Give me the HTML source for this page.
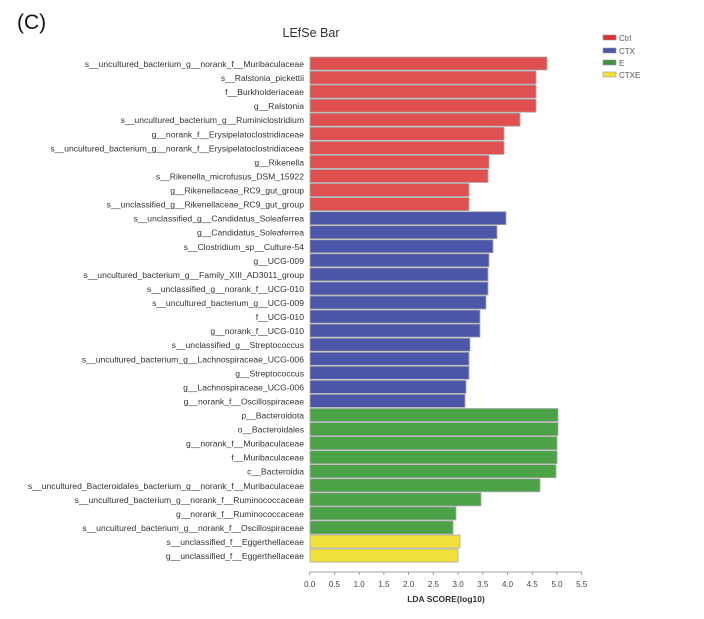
<!DOCTYPE html>
<html><head><meta charset="utf-8"><style>
html,body{margin:0;padding:0;background:#fff}
svg{display:block;font-family:"Liberation Sans",Arial,sans-serif}
.l{font-size:8.6px;fill:#333;text-anchor:end}
.r{fill:#e05050;stroke:#aaa;stroke-width:0.8}
.b{fill:#4c56a8;stroke:#aaa;stroke-width:0.8}
.g{fill:#4ca347;stroke:#aaa;stroke-width:0.8}
.y{fill:#f2e03a;stroke:#aaa;stroke-width:0.8}
.t{font-size:8px;fill:#444;text-anchor:middle}
</style></head><body>
<svg width="704" height="619" viewBox="0 0 704 619">
<text x="17" y="29" font-size="21" fill="#111">(C)</text>
<text x="311" y="37" font-size="12.5" fill="#333" text-anchor="middle">LEfSe Bar</text>
<rect x="603" y="35" width="13" height="5" fill="#e03030" stroke="#999" stroke-width="0.6"/><text x="619" y="41" font-size="8" fill="#555">Ctrl</text>
<rect x="603" y="48" width="13" height="5" fill="#4c56a8" stroke="#999" stroke-width="0.6"/><text x="619" y="54" font-size="8" fill="#555">CTX</text>
<rect x="603" y="60" width="13" height="5" fill="#3c9040" stroke="#999" stroke-width="0.6"/><text x="619" y="66" font-size="8" fill="#555">E</text>
<rect x="603" y="72" width="13" height="5" fill="#f2e03a" stroke="#999" stroke-width="0.6"/><text x="619" y="78" font-size="8" fill="#555">CTXE</text>

<rect class="r" x="310" y="57.0" width="237" height="13"/><text class="l" x="304" y="67.0">s__uncultured_bacterium_g__norank_f__Muribaculaceae</text>
<rect class="r" x="310" y="71.1" width="226" height="13"/><text class="l" x="304" y="81.1">s__Ralstonia_pickettii</text>
<rect class="r" x="310" y="85.1" width="226" height="13"/><text class="l" x="304" y="95.1">f__Burkholderiaceae</text>
<rect class="r" x="310" y="99.2" width="226" height="13"/><text class="l" x="304" y="109.2">g__Ralstonia</text>
<rect class="r" x="310" y="113.2" width="210" height="13"/><text class="l" x="304" y="123.2">s__uncultured_bacterium_g__Ruminiclostridium</text>
<rect class="r" x="310" y="127.3" width="194" height="13"/><text class="l" x="304" y="137.3">g__norank_f__Erysipelatoclostridiaceae</text>
<rect class="r" x="310" y="141.4" width="194" height="13"/><text class="l" x="304" y="151.4">s__uncultured_bacterium_g__norank_f__Erysipelatoclostridiaceae</text>
<rect class="r" x="310" y="155.4" width="179" height="13"/><text class="l" x="304" y="165.4">g__Rikenella</text>
<rect class="r" x="310" y="169.5" width="178" height="13"/><text class="l" x="304" y="179.5">s__Rikenella_microfusus_DSM_15922</text>
<rect class="r" x="310" y="183.5" width="159" height="13"/><text class="l" x="304" y="193.5">g__Rikenellaceae_RC9_gut_group</text>
<rect class="r" x="310" y="197.6" width="159" height="13"/><text class="l" x="304" y="207.6">s__unclassified_g__Rikenellaceae_RC9_gut_group</text>
<rect class="b" x="310" y="211.7" width="196" height="13"/><text class="l" x="304" y="221.7">s__unclassified_g__Candidatus_Soleaferrea</text>
<rect class="b" x="310" y="225.7" width="187" height="13"/><text class="l" x="304" y="235.7">g__Candidatus_Soleaferrea</text>
<rect class="b" x="310" y="239.8" width="183" height="13"/><text class="l" x="304" y="249.8">s__Clostridium_sp__Culture-54</text>
<rect class="b" x="310" y="253.8" width="179" height="13"/><text class="l" x="304" y="263.8">g__UCG-009</text>
<rect class="b" x="310" y="267.9" width="178" height="13"/><text class="l" x="304" y="277.9">s__uncultured_bacterium_g__Family_XIII_AD3011_group</text>
<rect class="b" x="310" y="282.0" width="178" height="13"/><text class="l" x="304" y="292.0">s__unclassified_g__norank_f__UCG-010</text>
<rect class="b" x="310" y="296.0" width="176" height="13"/><text class="l" x="304" y="306.0">s__uncultured_bacterium_g__UCG-009</text>
<rect class="b" x="310" y="310.1" width="170" height="13"/><text class="l" x="304" y="320.1">f__UCG-010</text>
<rect class="b" x="310" y="324.1" width="170" height="13"/><text class="l" x="304" y="334.1">g__norank_f__UCG-010</text>
<rect class="b" x="310" y="338.2" width="160" height="13"/><text class="l" x="304" y="348.2">s__unclassified_g__Streptococcus</text>
<rect class="b" x="310" y="352.3" width="159" height="13"/><text class="l" x="304" y="362.3">s__uncultured_bacterium_g__Lachnospiraceae_UCG-006</text>
<rect class="b" x="310" y="366.3" width="159" height="13"/><text class="l" x="304" y="376.3">g__Streptococcus</text>
<rect class="b" x="310" y="380.4" width="156" height="13"/><text class="l" x="304" y="390.4">g__Lachnospiraceae_UCG-006</text>
<rect class="b" x="310" y="394.4" width="155" height="13"/><text class="l" x="304" y="404.4">g__norank_f__Oscillospiraceae</text>
<rect class="g" x="310" y="408.5" width="248" height="13"/><text class="l" x="304" y="418.5">p__Bacteroidota</text>
<rect class="g" x="310" y="422.6" width="248" height="13"/><text class="l" x="304" y="432.6">o__Bacteroidales</text>
<rect class="g" x="310" y="436.6" width="247" height="13"/><text class="l" x="304" y="446.6">g__norank_f__Muribaculaceae</text>
<rect class="g" x="310" y="450.7" width="247" height="13"/><text class="l" x="304" y="460.7">f__Muribaculaceae</text>
<rect class="g" x="310" y="464.7" width="246" height="13"/><text class="l" x="304" y="474.7">c__Bacteroidia</text>
<rect class="g" x="310" y="478.8" width="230" height="13"/><text class="l" x="304" y="488.8">s__uncultured_Bacteroidales_bacterium_g__norank_f__Muribaculaceae</text>
<rect class="g" x="310" y="492.9" width="171" height="13"/><text class="l" x="304" y="502.9">s__uncultured_bacterium_g__norank_f__Ruminococcaceae</text>
<rect class="g" x="310" y="506.9" width="146" height="13"/><text class="l" x="304" y="516.9">g__norank_f__Ruminococcaceae</text>
<rect class="g" x="310" y="521.0" width="143" height="13"/><text class="l" x="304" y="531.0">s__uncultured_bacterium_g__norank_f__Oscillospiraceae</text>
<rect class="y" x="310" y="535.0" width="150" height="13"/><text class="l" x="304" y="545.0">s__unclassified_f__Eggerthellaceae</text>
<rect class="y" x="310" y="549.1" width="148" height="13"/><text class="l" x="304" y="559.1">g__unclassified_f__Eggerthellaceae</text>

<g stroke="#888" stroke-width="0.8">
<line x1="309.7" y1="572" x2="581.7" y2="572"/>
<line x1="309.7" y1="572" x2="309.7" y2="575"/><line x1="334.4" y1="572" x2="334.4" y2="575"/><line x1="359.2" y1="572" x2="359.2" y2="575"/><line x1="383.9" y1="572" x2="383.9" y2="575"/><line x1="408.6" y1="572" x2="408.6" y2="575"/><line x1="433.4" y1="572" x2="433.4" y2="575"/><line x1="458.1" y1="572" x2="458.1" y2="575"/><line x1="482.8" y1="572" x2="482.8" y2="575"/><line x1="507.5" y1="572" x2="507.5" y2="575"/><line x1="532.3" y1="572" x2="532.3" y2="575"/><line x1="557.0" y1="572" x2="557.0" y2="575"/><line x1="581.7" y1="572" x2="581.7" y2="575"/>
</g>
<text class="t" x="309.7" y="587">0.0</text><text class="t" x="334.4" y="587">0.5</text><text class="t" x="359.2" y="587">1.0</text><text class="t" x="383.9" y="587">1.5</text><text class="t" x="408.6" y="587">2.0</text><text class="t" x="433.4" y="587">2.5</text><text class="t" x="458.1" y="587">3.0</text><text class="t" x="482.8" y="587">3.5</text><text class="t" x="507.5" y="587">4.0</text><text class="t" x="532.3" y="587">4.5</text><text class="t" x="557.0" y="587">5.0</text><text class="t" x="581.7" y="587">5.5</text>
<text x="446" y="602" font-size="8.5" font-weight="bold" fill="#333" text-anchor="middle">LDA SCORE(log10)</text>
</svg>
</body></html>
